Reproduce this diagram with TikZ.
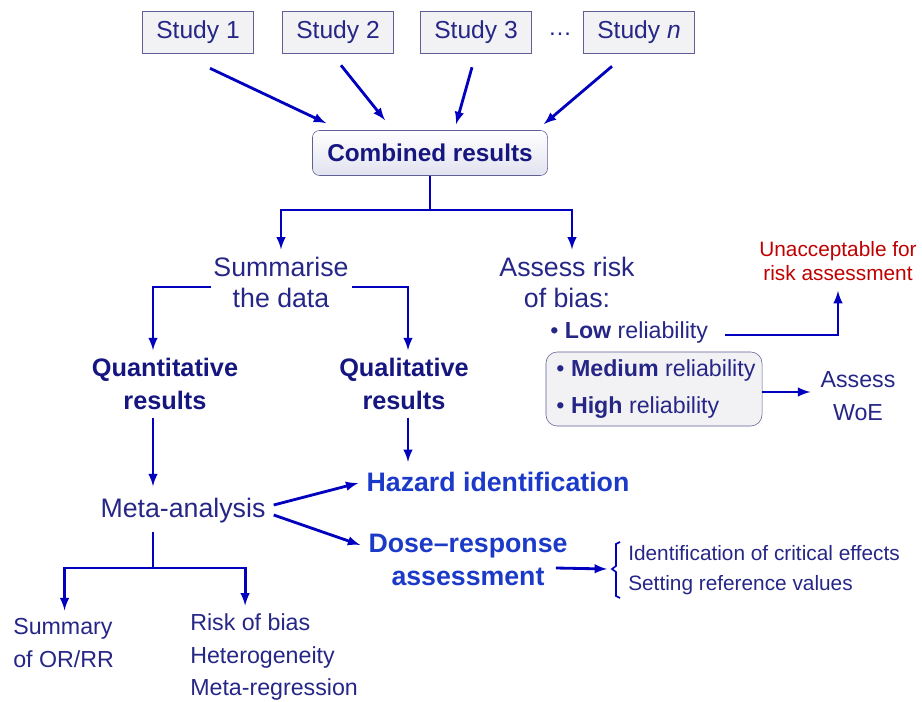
\documentclass[tikz,border=0pt]{standalone}
\usepackage{fontspec}
\setmainfont{Liberation Sans}
\usetikzlibrary{positioning}

\definecolor{navy}{RGB}{38,38,135}
\definecolor{deepnavy}{RGB}{22,22,128}
\definecolor{brightblue}{RGB}{28,58,200}
\definecolor{arrblue}{RGB}{0,0,190}
\definecolor{alarm}{RGB}{192,0,0}
\definecolor{boxline}{RGB}{95,95,150}
\definecolor{boxfill}{RGB}{242,242,244}

\tikzset{
  study/.style={draw=boxline, fill=boxfill, text=navy, inner sep=0pt,
    minimum width=2.775cm, minimum height=1.05cm, font=\fontsize{17.5}{20}\selectfont},
  combbox/.style={draw=boxline, rounded corners=5pt, top color=white, bottom color={rgb,255:red,226;green,226;blue,240},
    text=deepnavy, inner sep=0pt, minimum width=5.875cm, minimum height=1.125cm,
    font=\fontsize{17.3}{20}\selectfont\bfseries},
  relbox/.style={draw=boxline, rounded corners=8pt, fill=boxfill, text=navy, align=left,
    inner sep=0pt, minimum width=5.4cm, minimum height=1.85cm, font=\fontsize{16.5}{26}\selectfont},
  mid/.style={text=navy, align=center, inner sep=0pt, font=\fontsize{19}{22}\selectfont},
  txt/.style={text=navy, align=left, inner sep=0pt, font=\fontsize{16.5}{23}\selectfont},
  headbold/.style={text=deepnavy, align=center, inner sep=0pt, font=\fontsize{18}{23}\selectfont\bfseries},
  bluebold/.style={text=brightblue, align=center, inner sep=0pt, font=\fontsize{19}{23}\selectfont\bfseries},
  smalltxt/.style={text=navy, inner sep=0pt, font=\fontsize{14.8}{18}\selectfont},
  redtxt/.style={text=alarm, align=center, inner sep=0pt, font=\fontsize{14.8}{17}\selectfont},
  arr/.style={->, draw=arrblue, line width=2pt},
  ln/.style={draw=arrblue, line width=2pt},
}

\begin{document}
\begin{tikzpicture}[x=0.025cm, y=-0.025cm, >=latex]

    \useasboundingbox (0,0) rectangle (922,702);

    % studies
    \node[study] (s1) at (198,32) {Study 1};
    \node[study] (s2) at (338,32) {Study 2};
    \node[study] (s3) at (476,32) {Study 3};
    \node[text=navy, font=\fontsize{17}{20}\selectfont] (dots) at (560,34) {\dots};
    \node[study] (sn) at (639,32) {Study \textit{n}};
    \node[combbox] (comb) at (430,153) {Combined results};

    \draw [arr] ([shift={(12,15)}]s1.south) to ([shift={(14,-7)}]comb.north west);
    \draw [arr] ([shift={(3,12)}]s2.south) to ([shift={(-45,-10)}]comb.north);
    \draw [arr] ([shift={(-4,14)}]s3.south) to ([shift={(26,-6)}]comb.north);
    \draw [arr] ([shift={(-27,13)}]sn.south) to ([shift={(-4,-6)}]comb.north east);

    % second level
    \node[mid] (summ) at (281,282) {Summarise\\the data};
    \node[mid] (risk) at (567,282) {Assess risk\\of bias:};
    \coordinate (split) at (430,210);

    \draw [ln] (comb.south) -- (split);
    \draw [arr] (split) -| ([shift={(0,-7)}]summ.north);
    \draw [arr] (split) -| ([shift={(5,-7)}]risk.north);

    % risk of bias
    \node[txt, anchor=west] (low) at (550,333) {\textbullet\ \textbf{Low} reliability};
    \node[relbox] (rel) at (654,389) {\,\textbullet\ \textbf{Medium} reliability\\\,\textbullet\ \textbf{High} reliability};
    \node[redtxt] (unacc) at (838,261) {Unacceptable for\\risk assessment};
    \node[txt, align=center] (woe) at (858,396) {Assess\\WoE};

    \draw [arr] ([shift={(17,2)}]low.east) -| ([shift={(0,10)}]unacc.south);
    \draw [arr] ([shift={(0,3)}]rel.east) -- ([shift={(-10,-4)}]woe.west);

    % results
    \node[headbold] (quant) at (165,384) {Quantitative\\results};
    \node[headbold] (qual) at (404,384) {Qualitative\\results};

    \draw [arr] ([shift={(-2,5)}]summ.west) -| ([shift={(-12,-8)}]quant.north);
    \draw [arr] ([shift={(3,5)}]summ.east) -| ([shift={(4,-8)}]qual.north);

    \node[mid] (meta) at (183,511) {Meta-analysis};
    \node[bluebold] (haz) at (498,482) {Hazard identification};
    \node[bluebold] (dose) at (468,560) {Dose–response\\assessment};

    \draw [arr] ([shift={(-12,8)}]quant.south) -- ([shift={(-30,-12)}]meta.north);
    \draw [arr] ([shift={(4,8)}]qual.south) -- ([shift={(-90,-10)}]haz.north);
    \draw [arr] ([shift={(8,-6)}]meta.east) -- ([shift={(-8,1)}]haz.west);
    \draw [arr] ([shift={(8,4)}]meta.east) -- ([shift={(-8,-15)}]dose.west);

    % meta-analysis outputs
    \node[txt, anchor=west] (summary) at (13,643) {Summary\\of OR/RR};
    \node[txt, anchor=west] (rob) at (190,657) {Risk of bias\\Heterogeneity\\Meta-regression};
    \coordinate (msplit) at (153,568);

    \draw [ln] ([shift={(-30,8)}]meta.south) -- (msplit);
    \draw [arr] (msplit) -| ([shift={(1,-8)}]summary.north);
    \draw [arr] (msplit) -| ([shift={(-29,-8)}]rob.north);

    % dose-response outputs
    \node[smalltxt, anchor=west] (crit) at (628,553) {Identification of critical effects};
    \node[smalltxt, anchor=west] (setref) at (628,585) {Setting reference values};
    \coordinate (br) at (612,569);

    \draw [arr] ([shift={(-12,8)}]dose.east) -- ([shift={(-5,0)}]br);
    \draw [arrblue, line width=1.2pt] ([shift={(8,-27)}]br) -- ([shift={(4,-25)}]br) -- ([shift={(4,-3)}]br)
        -- (br) -- ([shift={(4,3)}]br) -- ([shift={(4,27)}]br) -- ([shift={(8,29)}]br);

\end{tikzpicture}
\end{document}
